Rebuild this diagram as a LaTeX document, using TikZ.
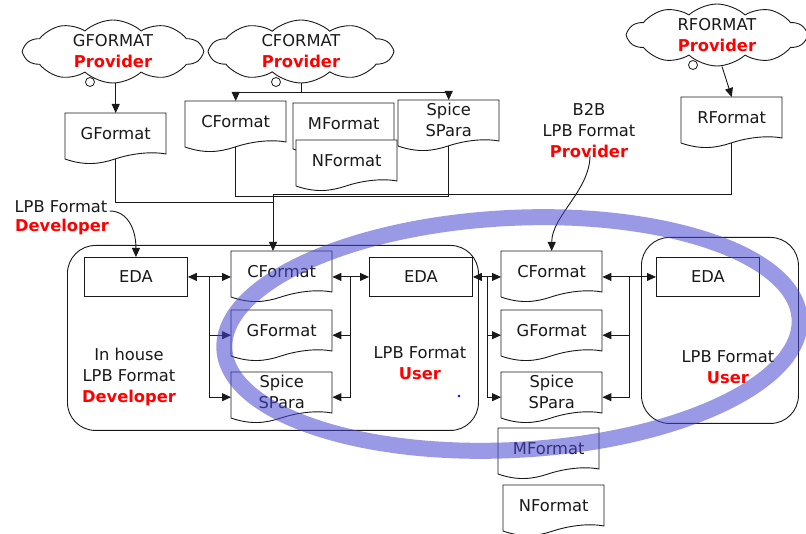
\documentclass[tikz,border=0pt]{standalone}
\usepackage{fontspec}
\setmainfont{DejaVu Sans}
\usetikzlibrary{shapes.symbols,arrows.meta,calc}
\definecolor{ink}{RGB}{25,25,25}
\definecolor{accent}{RGB}{255,0,0}
\definecolor{ringblue}{RGB}{70,70,210}
\newcommand\redbf[1]{\textcolor{accent}{\bfseries #1}}
\pgfdeclarelayer{docs}
\pgfsetlayers{docs,main}
\newcommand\docshape[1]{\begin{pgfonlayer}{docs}\filldraw[docline, shift={(#1.north west)}] (0,0) -- (0,46) .. controls (20,53) and (35,51) .. (50,46) .. controls (65,41) and (85,38) .. (101,41) -- (101,0) -- cycle;\end{pgfonlayer}}
\begin{document}
\begin{tikzpicture}[x=1pt,y=-1pt,
  font=\fontsize{16.3}{21}\selectfont,
  every node/.append style={text=ink},
  docline/.style={draw=ink, fill=white, line width=0.9pt},
  line/.style={draw=ink, line width=0.9pt},
  arr/.style={line, -{Triangle[length=9pt,width=8pt]}},
  darr/.style={line, {Triangle[length=9pt,width=8pt]}-{Triangle[length=9pt,width=8pt]}},
  doc/.style={minimum width=101pt, minimum height=40pt, inner sep=0pt, anchor=north west, align=center},
  edabox/.style={draw=ink, line width=0.9pt, minimum width=103pt, minimum height=39pt, inner sep=0pt, anchor=north west},
  group/.style={draw=ink, line width=0.9pt, rounded corners=28pt, inner sep=0pt, anchor=north west},
  cloudy/.style={cloud, cloud puffs=10, cloud puff arc=85, cloud ignores aspect, draw=ink, line width=0.9pt, inner sep=0pt, align=center},
  lbl/.style={align=center, inner sep=0pt},
  tail/.style={draw=ink, line width=0.8pt}]
\useasboundingbox (0,0) rectangle (806,534);

% clouds
\node[cloudy, minimum width=178pt, minimum height=63pt] (gcl) at (113,51.5) {GFORMAT\\\redbf{Provider}};
\node[cloudy, minimum width=182pt, minimum height=63pt] (ccl) at (301,51.5) {CFORMAT\\\redbf{Provider}};
\node[cloudy, minimum width=178pt, minimum height=62pt] (rcl) at (717,35) {RFORMAT\\\redbf{Provider}};
\draw[tail] (90,82) circle (4.5pt);
\draw[tail] (276,82) circle (4.5pt);
\draw[tail] (693,65) circle (4.5pt);

% top documents
\node[doc] (gft) at (65,113) {GFormat}; \docshape{gft}
\node[doc] (cft) at (185,101) {CFormat}; \docshape{cft}
\node[doc] (mft) at (293,103) {MFormat}; \docshape{mft}
\node[doc] (nft) at (296,140) {NFormat}; \docshape{nft}
\node[doc] (spt) at (398,100) {Spice\\SPara}; \docshape{spt}
\node[doc] (rft) at (681,97) {RFormat}; \docshape{rft}

% groups
\node[group, minimum width=411pt, minimum height=185pt] (ihgrp) at (67,245) {};
\node[group, minimum width=157pt, minimum height=186pt] (rgrp) at (641,237) {};

% EDA boxes
\node[edabox] (ihe) at (84,257) {EDA};
\node[edabox] (me) at (369,257) {EDA};
\node[edabox] (re) at (656,257) {EDA};

% lower documents
\node[doc] (ihc) at (231,251) {CFormat}; \docshape{ihc}
\node[doc] (ihgf) at (231,310) {GFormat}; \docshape{ihgf}
\node[doc] (ihs) at (231,372) {Spice\\SPara}; \docshape{ihs}
\node[doc] (rc) at (501,251) {CFormat}; \docshape{rc}
\node[doc] (rgf) at (501,310) {GFormat}; \docshape{rgf}
\node[doc] (rs) at (501,372) {Spice\\SPara}; \docshape{rs}
\node[doc] (mfb) at (498,428) {MFormat}; \docshape{mfb}
\node[doc] (nfb) at (503,485) {NFormat}; \docshape{nfb}

% labels
\node[lbl] (devtop) at (61,207) {LPB Format};
\node[lbl] (devred) at (62,227) {\redbf{Developer}};
\node[lbl] (ihlab) at (129,377) {In house\\LPB Format\\\redbf{Developer}};
\node[lbl] (mulab) at (420,363.5) {LPB Format\\\redbf{User}};
\node[lbl] (rulab) at (728,367.5) {LPB Format\\\redbf{User}};
\node[lbl] (b2b) at (589,131) {B2B\\LPB Format\\\redbf{Provider}};

% top connectors
\draw[arr] (gcl.south -| gft.north) -- (gft.north);
\coordinate (cj) at (ccl.south |- 0,92);
\draw[line] (ccl.south) -- (cj);
\draw[arr] (cj) -| (cft.north);
\draw[arr] (cj) -| (spt.north);
\draw[arr] ($(rcl.south)+(5,0)$) -- (rft.north);

% bus
\coordinate (busR) at (273,194);
\draw[line] ($(gft.south)+(0,6)$) |- (busR |- 0,202);
\draw[line] ($(cft.south)+(0,6)$) |- ($(spt.south)+(0,56)$) -- ($(spt.south)+(0,6)$);
\draw[line] ($(rft.south)+(0,6)$) |- (busR);
\draw[arr] (busR) -- (busR |- ihc.north);

% in-house arrows
\draw[darr] (ihe.east) -- (ihe.east -| ihc.west);
\coordinate (j1) at ($(ihe.east)!0.5!(ihe.east -| ihc.west)$);
\draw[arr] (j1) |- ($(ihgf.west)+(0,5)$);
\draw[arr] (j1) |- ($(ihs.west)+(0,5)$);

\draw[darr] (ihc.east |- me.west) -- (me.west);
\coordinate (j2) at ($(ihc.east |- me.west)!0.5!(me.west)$);
\draw[arr] (j2) |- ($(ihgf.east)+(0,5)$);
\draw[arr] (j2) |- ($(ihs.east)+(0,5)$);

\draw[darr] (me.east) -- (me.east -| rc.west);
\coordinate (j3) at ($(me.east)!0.5!(me.east -| rc.west)$);
\draw[arr] (j3) |- ($(rgf.west)+(0,5)$);
\draw[arr] (j3) |- ($(rs.west)+(0,5)$);

\draw[darr] (rc.east |- re.west) -- (re.west);
\coordinate (j4) at ($(rc.east |- re.west)!0.5!(re.west)$);
\draw[arr] (j4) |- ($(rgf.east)+(0,5)$);
\draw[arr] (j4) |- ($(rs.east)+(0,5)$);

% curved arrows
\draw[arr] ($(devtop.east)+(2,4)$) .. controls +(18,0) and +(0,-28) .. (ihe.north);
\draw[arr] ($(b2b.south)+(1,-3)$) .. controls +(0,35) and +(0,-35) .. (rc.north);

% small dot
\fill[blue] (459,396) circle (1.3pt);

% highlight ring
\draw[draw=ringblue, draw opacity=0.55, line width=16pt, rotate around={3:(512,334)}] (512,334) ellipse [x radius=288pt, y radius=116pt];
\end{tikzpicture}
\end{document}
